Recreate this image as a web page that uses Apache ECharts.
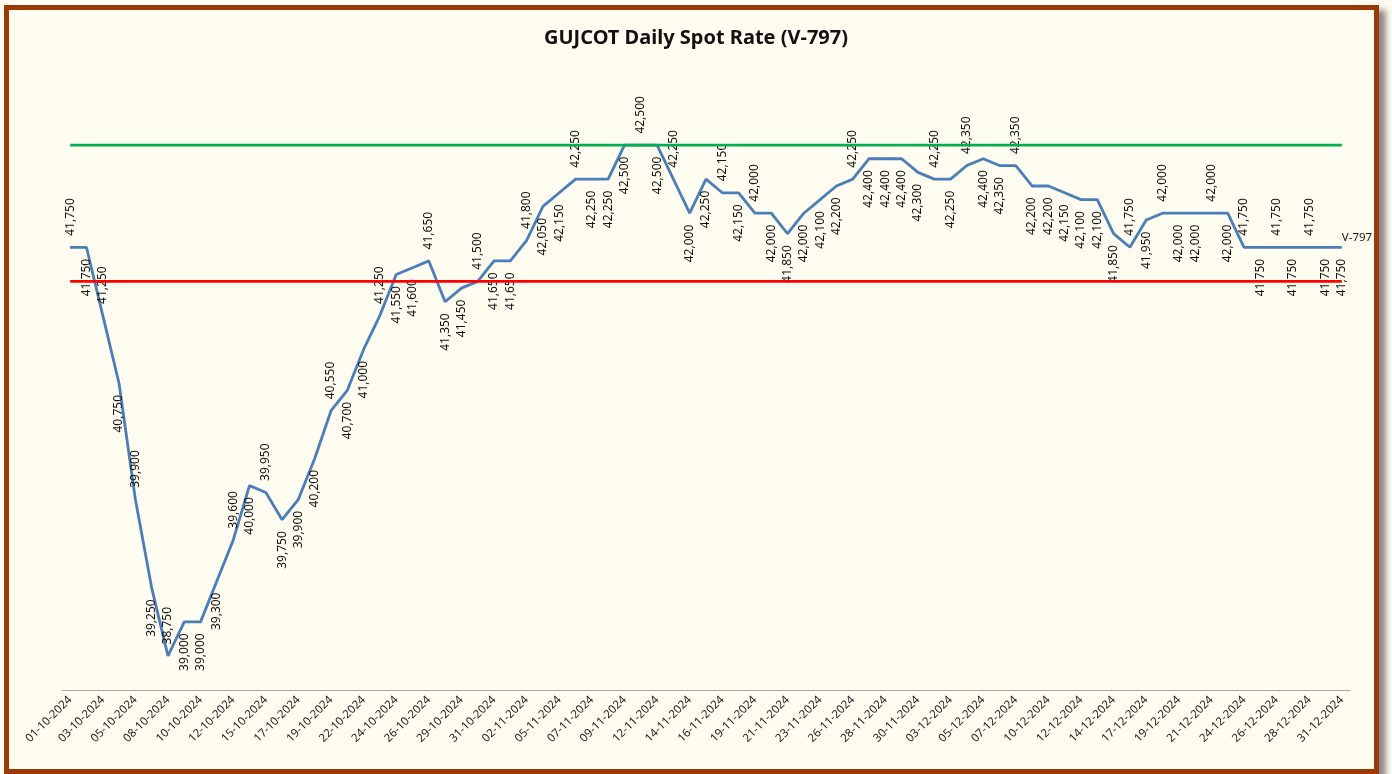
<!DOCTYPE html>
<html>
<head>
<meta charset="utf-8">
<script src="https://cdn.jsdelivr.net/npm/echarts@6/dist/echarts.min.js"></script>
<style>
  html, body { margin: 0; padding: 0; background: #fffdf2; }
  .frame {
    position: absolute; left: 4px; top: 5px;
    width: 1365px; height: 759px;
    border: 5px solid #9c3a06;
    background: #fffcf0;
    box-shadow: 7px 5px 6px rgba(0, 0, 0, 0.45);
  }
  #chart { position: absolute; left: 0; top: 0; width: 1392px; height: 774px; }
</style>
</head>
<body>
<div class="frame"></div>
<div id="chart"></div>
<script>
// trading days (Mon-Sat), Oct-Dec 2024
const dates = [
  '01-10-2024','02-10-2024','03-10-2024','04-10-2024','05-10-2024','07-10-2024','08-10-2024','09-10-2024',
  '10-10-2024','11-10-2024','12-10-2024','14-10-2024','15-10-2024','16-10-2024','17-10-2024','18-10-2024',
  '19-10-2024','21-10-2024','22-10-2024','23-10-2024','24-10-2024','25-10-2024','26-10-2024','28-10-2024',
  '29-10-2024','30-10-2024','31-10-2024',
  '01-11-2024','02-11-2024','04-11-2024','05-11-2024','06-11-2024','07-11-2024','08-11-2024','09-11-2024',
  '11-11-2024','12-11-2024','13-11-2024','14-11-2024','15-11-2024','16-11-2024','18-11-2024','19-11-2024',
  '20-11-2024','21-11-2024','22-11-2024','23-11-2024','25-11-2024','26-11-2024','27-11-2024','28-11-2024',
  '29-11-2024','30-11-2024',
  '02-12-2024','03-12-2024','04-12-2024','05-12-2024','06-12-2024','07-12-2024','09-12-2024','10-12-2024',
  '11-12-2024','12-12-2024','13-12-2024','14-12-2024','16-12-2024','17-12-2024','18-12-2024','19-12-2024',
  '20-12-2024','21-12-2024','23-12-2024','24-12-2024','25-12-2024','26-12-2024','27-12-2024','28-12-2024',
  '30-12-2024','31-12-2024'
];

const v797 = [
  41750, 41750, 41250, 40750, 39900, 39250, 38750, 39000, 39000, 39300,
  39600, 40000, 39950, 39750, 39900, 40200, 40550, 40700, 41000, 41250,
  41550, 41600, 41650, 41350, 41450, 41500, 41650, 41650, 41800, 42050,
  42150, 42250, 42250, 42250, 42500, 42500, 42500, 42250, 42000, 42250,
  42150, 42150, 42000, 42000, 41850, 42000, 42100, 42200, 42250, 42400,
  42400, 42400, 42300, 42250, 42250, 42350, 42400, 42350, 42350, 42200,
  42200, 42150, 42100, 42100, 41850, 41750, 41950, 42000, 42000, 42000,
  42000, 42000, 41750, 41750, 41750, 41750, 41750, 41750, 41750
];

// which side of the line each value label sits on (t = above, b = below), 10 per group
const labelSide = [
  'tbtbtbtbbb', 'tbtbbbtbbt', 'bbtbbtbbtb', 'btbbbtbtbb',
  'tbtbbbbbtb', 'bbbtbtbbtb', 'bbbbbtbtbb', 'tbtbtbtbb'
].join('').split('');

const upperLevel = 42500;
const lowerLevel = 41500;

const seriesName = 'V-797';
const titleText = 'GUJCOT Daily Spot Rate (V-797)';

const FONT = 'Noto Sans';
const fmt = (v) => v.toLocaleString('en-US');

const chart = echarts.init(document.getElementById('chart'));

chart.setOption({
  backgroundColor: 'transparent',
  animation: false,
  title: {
    text: titleText,
    left: 'center',
    top: 23,
    textStyle: { fontFamily: FONT, fontSize: 20, fontWeight: 'bold', color: '#111' }
  },
  grid: { left: 62, right: 42, top: 77, bottom: 84 },
  xAxis: {
    type: 'category',
    data: dates,
    boundaryGap: true,
    axisLine: { lineStyle: { color: '#a6a6a6', width: 1 } },
    axisTick: { interval: 0, length: 5, lineStyle: { color: '#a6a6a6' } },
    axisLabel: {
      interval: 1,
      rotate: 45,
      margin: 8,
      fontFamily: FONT,
      fontSize: 11.5,
      color: '#222'
    }
  },
  yAxis: {
    type: 'value',
    min: 38500,
    max: 43000,
    show: false
  },
  series: [
    {
      name: seriesName,
      type: 'line',
      z: 2,
      symbol: 'circle',
      symbolSize: 1,
      itemStyle: { color: 'rgba(0,0,0,0)' },
      lineStyle: { color: '#4a7ebb', width: 2.8 },
      data: v797.map((v, i) => {
        const top = labelSide[i] === 't';
        return {
          value: v,
          label: {
            position: top ? 'top' : 'bottom',
            align: top ? 'left' : 'right'
          }
        };
      }),
      label: {
        show: true,
        rotate: 90,
        distance: 11,
        verticalAlign: 'middle',
        fontFamily: FONT,
        fontSize: 12,
        color: '#111',
        formatter: (p) => fmt(p.value)
      },
      endLabel: {
        show: true,
        formatter: seriesName,
        offset: [-8, -10],
        fontFamily: FONT,
        fontSize: 11.5,
        color: '#111'
      }
    },
    {
      name: 'upper',
      type: 'line',
      z: 3,
      symbol: 'none',
      silent: true,
      lineStyle: { color: '#00b050', width: 2.6 },
      data: dates.map(() => upperLevel)
    },
    {
      name: 'lower',
      type: 'line',
      z: 3,
      symbol: 'none',
      silent: true,
      lineStyle: { color: '#ff0000', width: 2.6 },
      data: dates.map(() => lowerLevel)
    }
  ]
});
</script>
</body>
</html>
